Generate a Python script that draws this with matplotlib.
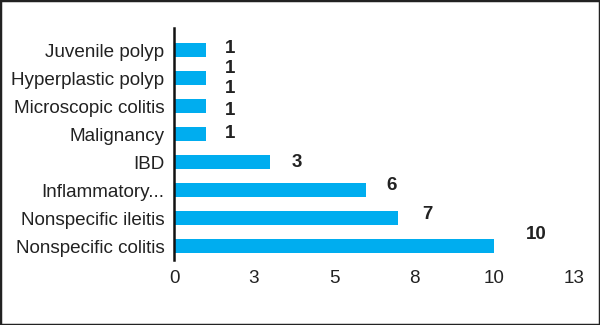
import matplotlib.pyplot as plt
from matplotlib.patches import Rectangle

categories = ['Nonspecific colitis', 'Nonspecific ileitis', 'Inflammatory...', 'IBD',
              'Malignancy', 'Microscopic colitis', 'Hyperplastic polyp', 'Juvenile polyp']
counts = [10, 7, 6, 3, 1, 1, 1, 1]
tick_values = [0, 2.5, 5, 7.5, 10, 12.5]
tick_labels = ['0', '3', '5', '8', '10', '13']

# label offsets in pixels (dx, dy), the scanned chart has them a bit scattered
label_offsets = [(42, 12), (29, 4), (25, 5), (27, 0), (24, 1), (24, -4), (24, 10), (24, 2)]
stray_label = (6, 24, -10)  # an extra "1" printed under the Hyperplastic polyp label

bar_color = '#00adef'
text_color = '#222222'

fig = plt.figure(figsize=(6, 3.25), dpi=100)
plt.rcParams['font.family'] = ['Liberation Sans', 'DejaVu Sans']
ax = fig.add_axes([0.29, 0.2, 0.667, 0.714])

y = list(range(len(categories)))
ax.barh(y, counts, height=0.5, color=bar_color)

for i, v in enumerate(counts):
    dx, dy = label_offsets[i]
    ax.annotate(str(v), (v, i), xytext=(dx, dy), textcoords='offset pixels',
                ha='center', va='center', fontsize=13.5, fontweight='bold', color=text_color)
i, dx, dy = stray_label
ax.annotate(str(counts[i]), (counts[i], i), xytext=(dx, dy), textcoords='offset pixels',
            ha='center', va='center', fontsize=13.5, fontweight='bold', color=text_color)

ax.set_xlim(0, 12.5)
ax.set_ylim(-0.5, 7.79)
ax.set_xticks(tick_values)
ax.set_xticklabels(tick_labels)
ax.set_yticks(y)
ax.set_yticklabels(categories)
ax.tick_params(axis='both', length=0, labelsize=13.6, colors=text_color)
ax.tick_params(axis='x', pad=7)
ax.tick_params(axis='y', pad=7)

for side in ['top', 'right', 'bottom']:
    ax.spines[side].set_visible(False)
ax.spines['left'].set_linewidth(1.8)
ax.spines['left'].set_color('#111111')

fig.patches.append(Rectangle((0, 0), 1, 1, transform=fig.transFigure, fill=False,
                             edgecolor='#222222', linewidth=2.5))

fig.savefig('out.png', dpi=100)
